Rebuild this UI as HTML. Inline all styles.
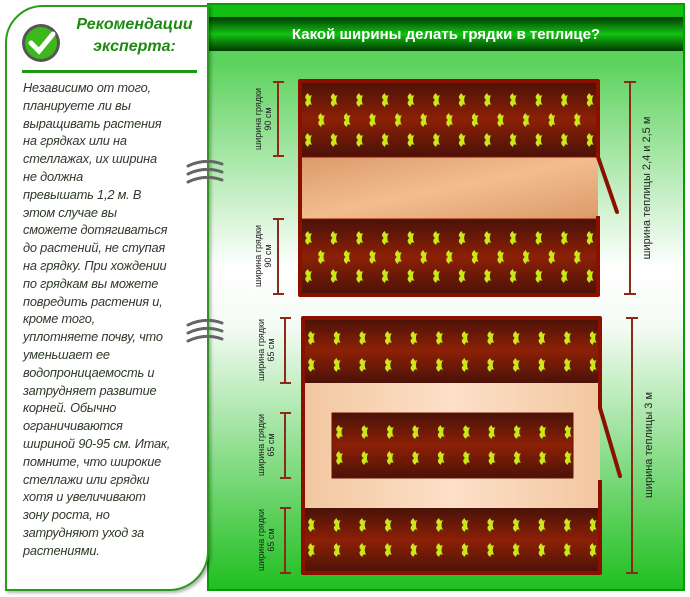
<!DOCTYPE html>
<html><head><meta charset="utf-8"><style>
body{margin:0;width:690px;height:597px;background:#fff;position:relative;overflow:hidden;font-family:"Liberation Sans",sans-serif}
.card{position:absolute;left:5px;top:5px;width:200px;height:582px;border:2px solid #2a9a1a;background:#fff;border-radius:38px 0 40px 0;box-shadow:2px 2px 3px rgba(0,0,0,.3)}
.title{position:absolute;left:72px;top:14px;width:125px;text-align:center;font:italic bold 16px/22px "Liberation Sans",sans-serif;color:#1d8a12}
.hr{position:absolute;left:22px;top:70px;width:175px;height:3px;background:#1d9a12}
.txt{position:absolute;left:23px;top:79px;width:185px;font:italic 12.8px/17.8px "Liberation Sans",sans-serif;letter-spacing:-0.2px;color:#2e3a2a;white-space:nowrap}
</style></head><body>
<svg style="position:absolute;left:0;top:0" width="690" height="597">
<defs>
<linearGradient id="bg" x1="0" y1="0" x2="0" y2="1">
<stop offset="0" stop-color="#4fcf4f"/><stop offset="0.1" stop-color="#5dd25d"/><stop offset="0.45" stop-color="#ffffff"/><stop offset="0.55" stop-color="#f4fbf4"/><stop offset="1" stop-color="#1fbf1f"/></linearGradient>
<linearGradient id="hd" x1="0" y1="0" x2="0" y2="1">
<stop offset="0" stop-color="#003a00"/><stop offset="0.5" stop-color="#13c213"/><stop offset="1" stop-color="#003a00"/></linearGradient>
<linearGradient id="bed" x1="0" y1="0" x2="0" y2="1">
<stop offset="0" stop-color="#4a1208"/><stop offset="0.5" stop-color="#8c2006"/><stop offset="1" stop-color="#4a1208"/></linearGradient>
<linearGradient id="path" x1="0" y1="0" x2="1" y2="1">
<stop offset="0" stop-color="#dc9a6a"/><stop offset="0.5" stop-color="#f2bd8e"/><stop offset="1" stop-color="#dc9a6a"/></linearGradient>
<linearGradient id="path2" x1="0" y1="0" x2="1" y2="0">
<stop offset="0" stop-color="#f2c7a0"/><stop offset="0.5" stop-color="#fde0c8"/><stop offset="1" stop-color="#f2c7a0"/></linearGradient>
<g id="p"><path d="M0,-7 Q-5,-3 -1,0 Q-5,3 0,7 Q1,3 4,5 Q1,0 4,-5 Q1,-3 0,-7Z" fill="#c8e81a"/></g>
<g id="row12">
<use href="#p" x="308"/><use href="#p" x="333.6"/><use href="#p" x="359.2"/><use href="#p" x="384.8"/><use href="#p" x="410.4"/><use href="#p" x="436"/><use href="#p" x="461.6"/><use href="#p" x="487.2"/><use href="#p" x="512.8"/><use href="#p" x="538.4"/><use href="#p" x="564"/><use href="#p" x="589.6"/>
</g>
<g id="row11">
<use href="#p" x="321"/><use href="#p" x="346.6"/><use href="#p" x="372.2"/><use href="#p" x="397.8"/><use href="#p" x="423.4"/><use href="#p" x="449"/><use href="#p" x="474.6"/><use href="#p" x="500.2"/><use href="#p" x="525.8"/><use href="#p" x="551.4"/><use href="#p" x="577"/>
</g>
</defs>
<rect x="208" y="4" width="476" height="586" fill="url(#bg)" stroke="#0a9a0a" stroke-width="2"/>
<rect x="209" y="5" width="474" height="12" fill="#12c012"/>
<rect x="209" y="17" width="474" height="34" fill="url(#hd)"/>
<text x="446" y="39" text-anchor="middle" fill="#fff" font-weight="bold" font-size="15" font-family="Liberation Sans,sans-serif">Какой ширины делать грядки в теплице?</text>
<rect x="300" y="81" width="298" height="76" fill="url(#bed)"/>
<rect x="300" y="157" width="298" height="62" fill="url(#path)"/>
<rect x="300" y="219" width="298" height="76" fill="url(#bed)"/>
<line x1="598" y1="157" x2="300" y2="157" stroke="#8c1000" stroke-width="1"/>
<line x1="598" y1="219" x2="300" y2="219" stroke="#8c1000" stroke-width="1"/>
<use href="#row12" y="100"/><use href="#row11" y="120"/><use href="#row12" y="140"/>
<use href="#row12" y="238"/><use href="#row11" y="257"/><use href="#row12" y="276"/>
<path d="M598,157 V81 H300 V295 H598 V216" fill="none" stroke="#8c1000" stroke-width="4" stroke-linejoin="round"/>
<line x1="598" y1="157" x2="617" y2="212" stroke="#8c1000" stroke-width="4" stroke-linecap="round"/>
<g stroke="#8c2a1a" stroke-width="2" fill="none">
<path d="M273,82H284M278,82V156M273,156H284"/>
<path d="M273,219H284M278,219V294M273,294H284"/>
<path d="M624,82H636M630,82V294M624,294H636"/>
<path d="M280,318H291M285,318V383M280,383H291"/>
<path d="M280,413H291M285,413V478M280,478H291"/>
<path d="M280,508H291M285,508V573M280,573H291"/>
<path d="M626,318H638M632,318V573M626,573H638"/>
</g>
<g font-family="Liberation Sans,sans-serif" font-size="9" fill="#222" text-anchor="middle">
<text transform="translate(261,119) rotate(-90)">ширина грядки</text><text transform="translate(271,119) rotate(-90)">90 см</text>
<text transform="translate(261,256) rotate(-90)">ширина грядки</text><text transform="translate(271,256) rotate(-90)">90 см</text>
<text transform="translate(264,350) rotate(-90)">ширина грядки</text><text transform="translate(274,350) rotate(-90)">65 см</text>
<text transform="translate(264,445) rotate(-90)">ширина грядки</text><text transform="translate(274,445) rotate(-90)">65 см</text>
<text transform="translate(264,540) rotate(-90)">ширина грядки</text><text transform="translate(274,540) rotate(-90)">65 см</text>
<text font-size="11" transform="translate(650,188) rotate(-90)">ширина теплицы 2,4 и 2,5 м</text>
<text font-size="11" transform="translate(652,445) rotate(-90)">ширина теплицы 3 м</text>
</g>
<rect x="303" y="318" width="297" height="65" fill="url(#bed)"/>
<rect x="303" y="383" width="297" height="125" fill="url(#path2)"/>
<rect x="303" y="508" width="297" height="65" fill="url(#bed)"/>
<rect x="332" y="413" width="241" height="65" fill="url(#bed)" stroke="#6a1000" stroke-width="1"/>
<g transform="translate(3,0)"><use href="#row12" y="338"/><use href="#row12" y="365"/><use href="#row12" y="525"/><use href="#row12" y="550"/></g>
<g>
<use href="#p" x="339" y="432"/><use href="#p" x="364.4" y="432"/><use href="#p" x="389.8" y="432"/><use href="#p" x="415.2" y="432"/><use href="#p" x="440.6" y="432"/><use href="#p" x="466" y="432"/><use href="#p" x="491.4" y="432"/><use href="#p" x="516.8" y="432"/><use href="#p" x="542.2" y="432"/><use href="#p" x="567.6" y="432"/>
<use href="#p" x="339" y="458"/><use href="#p" x="364.4" y="458"/><use href="#p" x="389.8" y="458"/><use href="#p" x="415.2" y="458"/><use href="#p" x="440.6" y="458"/><use href="#p" x="466" y="458"/><use href="#p" x="491.4" y="458"/><use href="#p" x="516.8" y="458"/><use href="#p" x="542.2" y="458"/><use href="#p" x="567.6" y="458"/>
</g>
<path d="M600,408 V318 H303 V573 H600 V480" fill="none" stroke="#8c1000" stroke-width="4" stroke-linejoin="round"/>
<line x1="600" y1="408" x2="620" y2="476" stroke="#8c1000" stroke-width="4" stroke-linecap="round"/>
</svg>
<div class="card"></div>
<svg style="position:absolute;left:20px;top:22px" width="42" height="42"><circle cx="21" cy="21" r="19" fill="#555"/><circle cx="21" cy="21" r="16" fill="#3cb81c"/><path d="M11,21 L19,29 L33,12" stroke="#fff" stroke-width="5" fill="none" stroke-linecap="round"/></svg>
<div class="title">Рекомендации<br>эксперта:</div>
<div class="hr"></div>
<div class="txt">Независимо от того,<br>планируете ли вы<br>выращивать растения<br>на грядках или на<br>стеллажах, их ширина<br>не должна<br>превышать 1,2 м. В<br>этом случае вы<br>сможете дотягиваться<br>до растений, не ступая<br>на грядку. При хождении<br>по грядкам вы можете<br>повредить растения и,<br>кроме того,<br>уплотняете почву, что<br>уменьшает ее<br>водопроницаемость и<br>затрудняет развитие<br>корней. Обычно<br>ограничиваются<br>шириной 90-95 см. Итак,<br>помните, что широкие<br>стеллажи или грядки<br>хотя и увеличивают<br>зону роста, но<br>затрудняют уход за<br>растениями.</div>
<svg style="position:absolute;left:0;top:0" width="690" height="597">
<g stroke="#666" stroke-width="3" fill="none" stroke-linecap="round">
<path d="M188,166 Q205,158 222,164"/><path d="M188,174 Q205,166 222,172"/><path d="M188,182 Q205,174 222,180"/>
<path d="M188,325 Q205,317 222,323"/><path d="M188,333 Q205,325 222,331"/><path d="M188,341 Q205,333 222,339"/>
</g></svg>
</body></html>
